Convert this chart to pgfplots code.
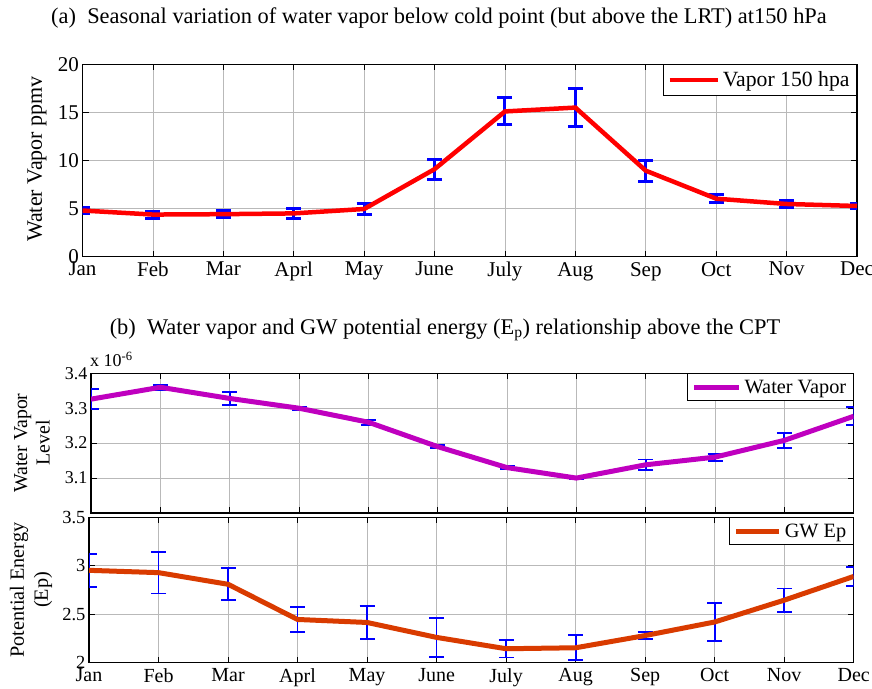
\documentclass[border=0pt]{standalone}
\usepackage{fontspec}
\setmainfont{Liberation Serif}
\usepackage{pgfplots}
\pgfplotsset{compat=1.18}
\definecolor{vap}{rgb}{0.75,0,0.75}
\definecolor{gwep}{rgb}{0.85,0.23,0.0}
\pgfplotsset{mystyle/.style={
  scale only axis, xmin=1, xmax=12, xtick={1,...,12},
  grid=major, major grid style={gray!55, line width=0.7pt},
  axis line style={line width=1.1pt}, tick style={black, line width=0.8pt},
  major tick length=6pt, tick align=inside,
  /pgf/number format/assume math mode=true,
  xticklabel style={yshift=-2pt},
  legend cell align=left,
  legend style={at={(1,1)}, anchor=north east, draw=black, line width=1pt,
    inner xsep=4pt, inner ysep=4pt,
    nodes={inner xsep=3pt}},
}}
\begin{document}
\begin{tikzpicture}
\useasboundingbox (0pt,0pt) rectangle (872pt,688pt);
\node[font=\fontsize{22.4}{26}\selectfont] at (439pt,670pt) {(a)\ \ Seasonal variation of water vapor below cold point (but above the LRT) at150 hPa};
\node[font=\fontsize{22.4}{26}\selectfont] at (445pt,358pt) {(b)\ \ Water vapor and GW potential energy (E\textsubscript{p}) relationship above the CPT};
\node[font=\fontsize{22}{26}\selectfont, rotate=90] at (37pt,529pt) {Water Vapor ppmv};
\node[font=\fontsize{19.8}{22.5}\selectfont, rotate=90, align=center] at (32pt,245pt) {Water Vapor\\Level};
\node[font=\fontsize{20.2}{24}\selectfont, rotate=90, align=center] at (31pt,98pt) {Potential Energy\\(Ep)};
\node[font=\fontsize{18}{20}\selectfont, anchor=base west, inner sep=0pt] at (90pt,321pt) {x 10\textsuperscript{-6}};

% (a)
\begin{axis}[mystyle, at={(82.5pt,431.3pt)}, anchor=south west, width=774.5pt, height=192.4pt,
  ymin=0, ymax=20, ytick={0,5,10,15,20},
  xticklabels={Jan,Feb,Mar,Aprl,May,June,July,Aug,Sep,Oct,Nov,Dec},
  tick label style={font=\fontsize{21}{24}\selectfont},
  legend style={font=\fontsize{21.7}{24}\selectfont, inner ysep=5pt},
  legend image code/.code={\draw[#1] (0pt,0pt) -- (48pt,0pt);}]
\addplot[draw=none, forget plot, error bars/.cd, y dir=both, y explicit,
  error bar style={draw=blue, line width=3pt},
  error mark options={draw=blue, line width=3pt, mark size=7.5pt, rotate=90}]
 coordinates {(1,4.8)+-(0,0.36) (2,4.38)+-(0,0.36) (3,4.42)+-(0,0.36) (4,4.5)+-(0,0.48)
  (5,4.96)+-(0,0.62) (6,9.1)+-(0,1.05) (7,15.1)+-(0,1.4) (8,15.5)+-(0,1.97)
  (9,8.94)+-(0,1.1) (10,6.03)+-(0,0.4) (11,5.48)+-(0,0.35) (12,5.27)+-(0,0.28)};
\addplot[red, line width=4.5pt] coordinates {(1,4.8) (2,4.38) (3,4.42) (4,4.5) (5,4.96) (6,9.1)
  (7,15.1) (8,15.5) (9,8.94) (10,6.03) (11,5.48) (12,5.27)};
\addlegendentry{Vapor 150 hpa}
\end{axis}

% (b1)
\begin{axis}[mystyle, at={(91pt,175pt)}, anchor=south west, width=762.7pt, height=139.7pt,
  ymin=3.0, ymax=3.4, ytick={3.1,3.2,3.3,3.4}, xticklabels={},
  yticklabel style={font=\fontsize{18}{22}\selectfont},
  yticklabel={\pgfmathprintnumber[fixed,precision=1,fixed zerofill]{\tick}},
  legend style={font=\fontsize{20.3}{23}\selectfont},
  legend image code/.code={\draw[#1] (0pt,0pt) -- (45pt,0pt);}]
\addplot[draw=none, forget plot, error bars/.cd, y dir=both, y explicit,
  error bar style={draw=blue, line width=1.8pt},
  error mark options={draw=blue, line width=1.8pt, mark size=7.5pt, rotate=90}]
 coordinates {(1,3.326)+-(0,0.028) (2,3.36)+-(0,0.007) (3,3.328)+-(0,0.018) (4,3.30)+-(0,0.005)
  (5,3.26)+-(0,0.007) (6,3.19)+-(0,0.005) (7,3.13)+-(0,0.005) (8,3.10)+-(0,0.003)
  (9,3.138)+-(0,0.015) (10,3.16)+-(0,0.01) (11,3.208)+-(0,0.021) (12,3.277)+-(0,0.026)};
\addplot[vap, line width=5pt] coordinates {(1,3.326) (2,3.36) (3,3.328) (4,3.30) (5,3.26) (6,3.19)
  (7,3.13) (8,3.10) (9,3.138) (10,3.16) (11,3.208) (12,3.277)};
\addlegendentry{Water Vapor}
\end{axis}

% (b2)
\begin{axis}[mystyle, at={(89pt,25.3pt)}, anchor=south west, width=764.7pt, height=145.4pt,
  ymin=2, ymax=3.5, ytick={2,2.5,3,3.5},
  xticklabels={Jan,Feb,Mar,Aprl,May,June,July,Aug,Sep,Oct,Nov,Dec},
  xticklabel style={font=\fontsize{20}{22}\selectfont},
  yticklabel style={font=\fontsize{18.5}{22}\selectfont},
  legend style={font=\fontsize{20.3}{23}\selectfont},
  legend image code/.code={\draw[#1] (0pt,0pt) -- (43pt,0pt);}]
\addplot[draw=none, forget plot, error bars/.cd, y dir=both, y explicit,
  error bar style={draw=blue, line width=1.8pt},
  error mark options={draw=blue, line width=1.8pt, mark size=7.5pt, rotate=90}]
 coordinates {(1,2.953)+-(0,0.17) (2,2.929)+-(0,0.215) (3,2.809)+-(0,0.165) (4,2.446)+-(0,0.128)
  (5,2.415)+-(0,0.17) (6,2.261)+-(0,0.2) (7,2.144)+-(0,0.09) (8,2.154)+-(0,0.13)
  (9,2.28)+-(0,0.035) (10,2.42)+-(0,0.2) (11,2.645)+-(0,0.12) (12,2.89)+-(0,0.095)};
\addplot[gwep, line width=5pt] coordinates {(1,2.953) (2,2.929) (3,2.809) (4,2.446) (5,2.415) (6,2.261)
  (7,2.144) (8,2.154) (9,2.28) (10,2.42) (11,2.645) (12,2.89)};
\addlegendentry{GW Ep}
\end{axis}
\end{tikzpicture}
\end{document}
